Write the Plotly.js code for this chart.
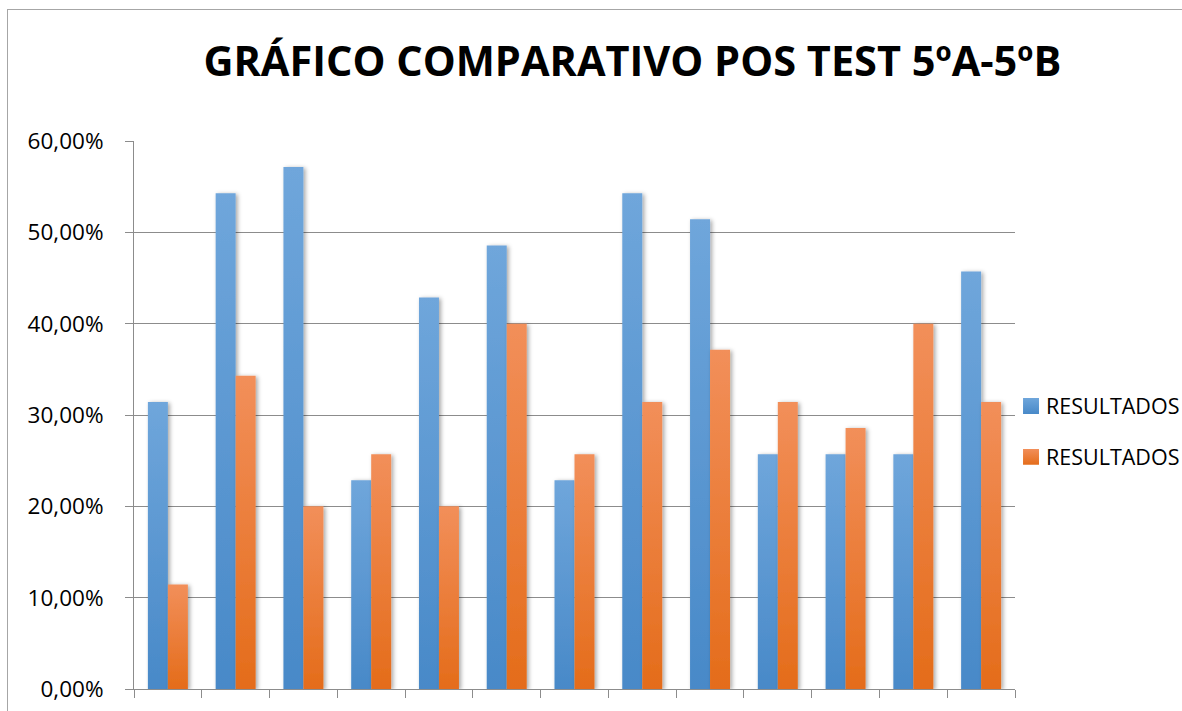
<!DOCTYPE html>
<html>
<head>
<meta charset="utf-8">
<script src="https://cdn.plot.ly/plotly-3.0.1.min.js"></script>
<style>
  html, body { margin: 0; padding: 0; background: #fff; overflow: hidden; }
  #chart { width: 1182px; height: 711px; position: relative; }
  #frame { position: absolute; left: 7px; top: 9px; width: 1300px; height: 800px;
           border-left: 1px solid #a6a6a6; border-top: 1px solid #a6a6a6; pointer-events: none; }
</style>
</head>
<body>
<div id="chart"></div>
<div id="frame"></div>
<script>
const chartTitle = "GRÁFICO COMPARATIVO POS TEST 5ºA-5ºB";
const categories = ["1","2","3","4","5","6","7","8","9","10","11","12","13"];
const seriesNames = ["RESULTADOS 5ºA", "RESULTADOS 5ºB"];
const resultados5A = [0.3143, 0.5429, 0.5714, 0.2286, 0.4286, 0.4857, 0.2286, 0.5429, 0.5143, 0.2571, 0.2571, 0.2571, 0.4571];
const resultados5B = [0.1143, 0.3429, 0.2000, 0.2571, 0.2000, 0.4000, 0.2571, 0.3143, 0.3714, 0.3143, 0.2857, 0.4000, 0.3143];
const yTicks = [0, 0.1, 0.2, 0.3, 0.4, 0.5, 0.6];

const FONT = "Open Sans, Noto Sans, sans-serif";

const traces = [
  { type: "bar", name: seriesNames[0], x: categories, y: resultados5A,
    marker: { color: "#5b9bd5" }, legendgroup: "a", hoverinfo: "y" },
  { type: "bar", name: seriesNames[1], x: categories, y: resultados5B,
    marker: { color: "#ed7d31" }, legendgroup: "b", hoverinfo: "y" }
];

const layout = {
  width: 1182, height: 711,
  paper_bgcolor: "#ffffff", plot_bgcolor: "#ffffff",
  margin: { l: 134, r: 167, t: 141, b: 22, autoexpand: false },
  separators: ",.",
  barmode: "group", bargap: 0.41, bargroupgap: 0,
  title: { text: "<b>" + chartTitle + "</b>", x: 0.535, xanchor: "center", y: 0.913, yanchor: "middle",
           font: { family: FONT, size: 41.5, color: "#000" } },
  font: { family: FONT, color: "#000" },
  xaxis: {
    type: "category", showticklabels: false, tickson: "boundaries",
    ticks: "outside", ticklen: 8, tickcolor: "#8c8c8c", tickwidth: 1,
    showline: true, linecolor: "#8c8c8c", linewidth: 1, showgrid: false, zeroline: false,
    fixedrange: true
  },
  yaxis: {
    range: [0, 0.6], tickvals: yTicks, tickformat: ".2%",
    ticks: "outside", ticklen: 8, tickcolor: "#8c8c8c", tickwidth: 1,
    ticklabelstandoff: 17,
    tickfont: { family: FONT, size: 22.5, color: "#000" },
    showline: true, linecolor: "#8c8c8c", linewidth: 1,
    showgrid: true, gridcolor: "#8c8c8c", gridwidth: 1, zeroline: false,
    fixedrange: true
  },
  showlegend: true,
  legend: { x: 0.9898, xanchor: "left", y: 0.47, yanchor: "middle",
            font: { family: FONT, size: 21.5, color: "#000" },
            tracegroupgap: 20, bgcolor: "rgba(0,0,0,0)" }
};

Plotly.newPlot("chart", traces, layout, { displayModeBar: false, staticPlot: true }).then(function (gd) {
  const svg = gd.querySelector("svg.main-svg");
  const ns = "http://www.w3.org/2000/svg";
  let defs = svg.querySelector("defs");
  if (!defs) { defs = document.createElementNS(ns, "defs"); svg.insertBefore(defs, svg.firstChild); }
  function grad(id, top, bottom) {
    const g = document.createElementNS(ns, "linearGradient");
    g.setAttribute("id", id); g.setAttribute("x1", "0"); g.setAttribute("y1", "0");
    g.setAttribute("x2", "0"); g.setAttribute("y2", "1");
    [[0, top], [1, bottom]].forEach(function (s) {
      const st = document.createElementNS(ns, "stop");
      st.setAttribute("offset", s[0]); st.setAttribute("stop-color", s[1]);
      g.appendChild(st);
    });
    defs.appendChild(g);
  }
  grad("gBlue", "#6fa6db", "#4889c8");
  grad("gOrange", "#f28f5a", "#e46c1a");
  const f = document.createElementNS(ns, "filter");
  f.setAttribute("id", "shadow"); f.setAttribute("x", "-50%"); f.setAttribute("y", "-10%");
  f.setAttribute("width", "220%"); f.setAttribute("height", "130%");
  const ds = document.createElementNS(ns, "feDropShadow");
  ds.setAttribute("dx", "2"); ds.setAttribute("dy", "1"); ds.setAttribute("stdDeviation", "2.2");
  ds.setAttribute("flood-color", "#000"); ds.setAttribute("flood-opacity", "0.35");
  f.appendChild(ds); defs.appendChild(f);
  const ids = ["gBlue", "gOrange"];
  gd.querySelectorAll(".barlayer .trace.bars").forEach(function (tr, i) {
    tr.querySelectorAll("path").forEach(function (p) {
      p.style.fill = "url(#" + ids[i] + ")";
      p.style.filter = "url(#shadow)";
    });
  });
  gd.querySelectorAll(".legend .traces").forEach(function (tr, i) {
    tr.querySelectorAll(".legendpoints path").forEach(function (p) {
      p.style.fill = "url(#" + ids[i] + ")";
      p.setAttribute("transform", "translate(25,0) scale(1.33)");
    });
  });
});
</script>
</body>
</html>
